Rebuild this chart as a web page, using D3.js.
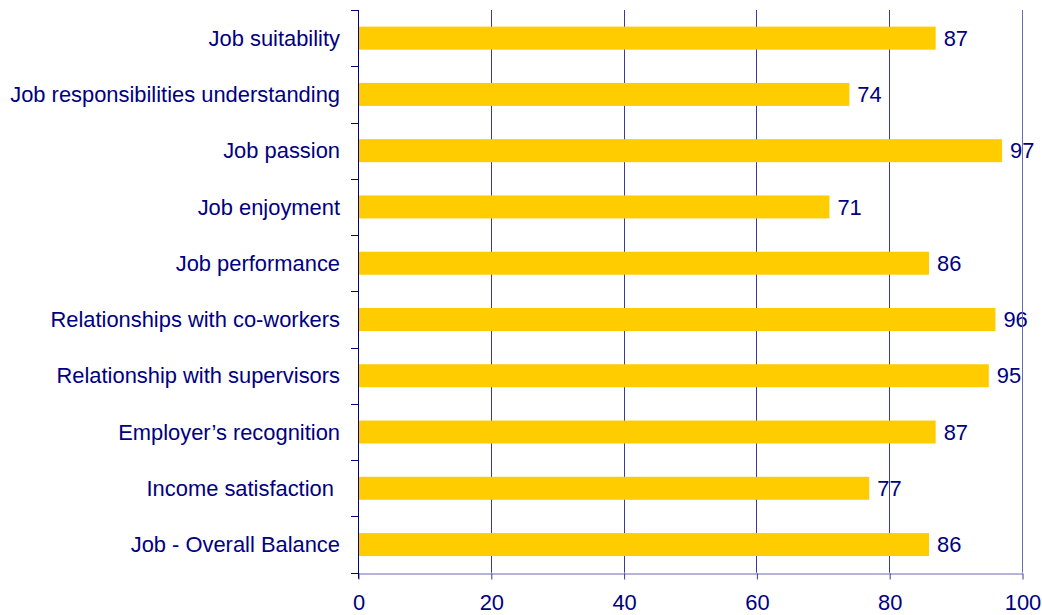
<!DOCTYPE html>
<html>
<head>
<meta charset="utf-8">
<script src="https://cdn.jsdelivr.net/npm/d3@7"></script>
<style>
  html, body { margin: 0; padding: 0; background: #ffffff; }
  svg { display: block; }
  text { font-family: "Liberation Sans", Arial, sans-serif; fill: #000080; }
</style>
</head>
<body>
<svg id="chart" width="1042" height="615"></svg>
<script>
// Survey categories, top to bottom
const categories = [
  "Job suitability",
  "Job responsibilities understanding",
  "Job passion",
  "Job enjoyment",
  "Job performance",
  "Relationships with co-workers",
  "Relationship with supervisors",
  "Employer\u2019s recognition",
  "Income satisfaction ",
  "Job - Overall Balance"
];
// Score for each category (0–100)
const scores = [87, 74, 97, 71, 86, 96, 95, 87, 77, 86];
// Value axis ticks
const xTicks = [0, 20, 40, 60, 80, 100];

const FONT = 21.9;
const svg = d3.select("#chart");
const margin = { left: 358, top: 10 };
const plotW = 1022 - margin.left;
const plotH = 572.7 - margin.top;

const x = d3.scaleLinear().domain([0, 100]).range([margin.left, margin.left + plotW]);
const yBand = d3.scaleBand().domain(categories).range([margin.top, margin.top + plotH]);

const data = categories.map((c, i) => ({ cat: c, v: scores[i] }));

// vertical gridlines
svg.append("g")
  .selectAll("line")
  .data(xTicks.filter(t => t > 0 && t < 100))
  .join("line")
  .attr("x1", d => Math.round(x(d)) + 0.5)
  .attr("x2", d => Math.round(x(d)) + 0.5)
  .attr("y1", margin.top)
  .attr("y2", margin.top + plotH)
  .attr("stroke", "#3a3a9c")
  .attr("stroke-width", 1);

// bars
svg.append("g")
  .selectAll("rect")
  .data(data)
  .join("rect")
  .attr("x", x(0))
  .attr("y", d => yBand(d.cat) + yBand.bandwidth() / 2 - 11.5)
  .attr("width", d => x(d.v) - x(0))
  .attr("height", 23)
  .attr("fill", "#ffcc00");

// value labels
svg.append("g")
  .selectAll("text")
  .data(data)
  .join("text")
  .attr("x", d => x(d.v) + 8)
  .attr("y", d => yBand(d.cat) + yBand.bandwidth() / 2)
  .attr("dy", "0.35em")
  .attr("font-size", FONT)
  .text(d => d.v);

// right border
svg.append("line")
  .attr("x1", Math.round(x(100)) + 0.5).attr("x2", Math.round(x(100)) + 0.5)
  .attr("y1", margin.top).attr("y2", margin.top + plotH)
  .attr("stroke", "#6a6ab4");

// bottom axis
const xAxis = d3.axisBottom(x).tickValues(xTicks).tickSize(6).tickSizeOuter(0).tickPadding(15);
const gx = svg.append("g")
  .attr("transform", `translate(0.5,${Math.round(margin.top + plotH) + 0.5})`)
  .call(xAxis);
gx.select(".domain").attr("stroke", "#6a6ab4");
gx.selectAll(".tick line").attr("stroke", "#3a3a9c");
gx.selectAll(".tick text")
  .attr("font-size", FONT)
  .attr("font-family", "'Liberation Sans', Arial, sans-serif")
  .attr("fill", "#000080");

// left category axis: ticks at band boundaries
const boundaries = d3.range(0, categories.length + 1).map(i => margin.top + i * yBand.step());
svg.append("g")
  .selectAll("line")
  .data(boundaries)
  .join("line")
  .attr("x1", Math.round(x(0)) - 7)
  .attr("x2", Math.round(x(0)))
  .attr("y1", d => Math.round(d) + 0.5)
  .attr("y2", d => Math.round(d) + 0.5)
  .attr("stroke", "#000080");
svg.append("line")
  .attr("x1", Math.round(x(0)) + 0.5).attr("x2", Math.round(x(0)) + 0.5)
  .attr("y1", margin.top).attr("y2", margin.top + plotH + 6)
  .attr("stroke", "#000080");

// category labels
svg.append("g")
  .selectAll("text")
  .data(categories)
  .join("text")
  .attr("x", x(0) - 18)
  .attr("y", d => yBand(d) + yBand.bandwidth() / 2)
  .attr("dy", "0.35em")
  .attr("text-anchor", "end")
  .attr("font-size", FONT)
  .attr("xml:space", "preserve")
  .style("white-space", "pre")
  .text(d => d);
</script>
</body>
</html>
